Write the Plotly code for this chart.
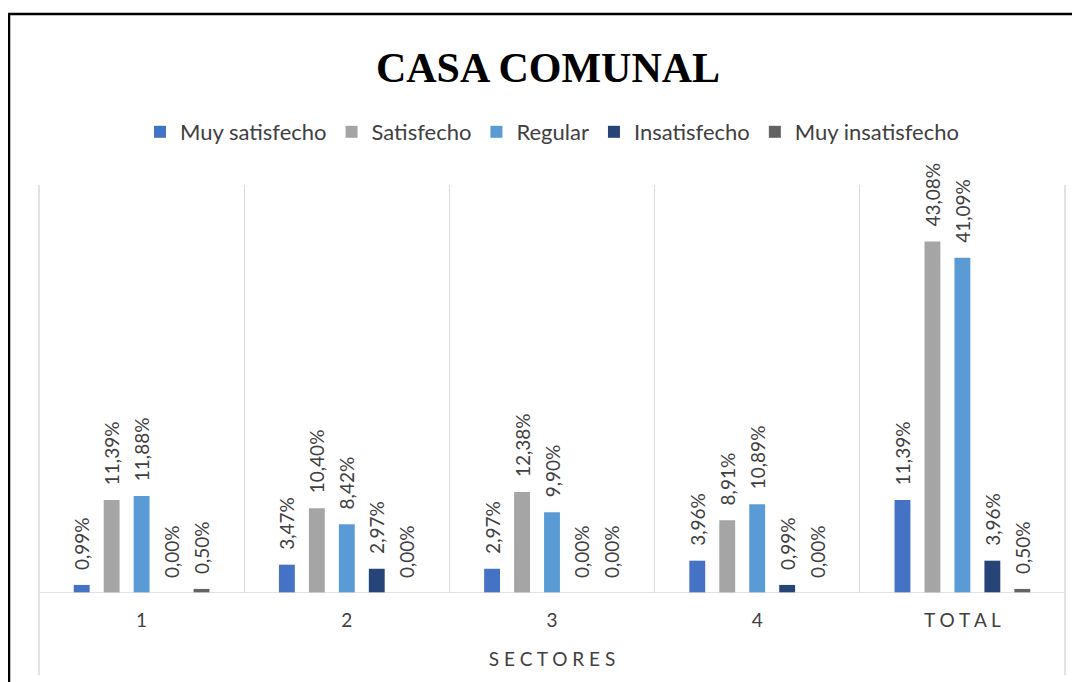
import plotly.graph_objects as go

# data
sectores = ["1", "2", "3", "4", "T O T A L"]
muy_satisfecho = [0.99, 3.47, 2.97, 3.96, 11.39]
satisfecho = [11.39, 10.40, 12.38, 8.91, 43.08]
regular = [11.88, 8.42, 9.90, 10.89, 41.09]
insatisfecho = [0.00, 2.97, 0.00, 0.99, 3.96]
muy_insatisfecho = [0.50, 0.00, 0.00, 0.00, 0.50]

series = [
    ("Muy satisfecho", muy_satisfecho, "#4472C4"),
    ("Satisfecho", satisfecho, "#A5A5A5"),
    ("Regular", regular, "#5B9BD5"),
    ("Insatisfecho", insatisfecho, "#264478"),
    ("Muy insatisfecho", muy_insatisfecho, "#636363"),
]

FONT = "Lato, Calibri, Carlito, sans-serif"
TXT = "#404040"


def pct(v):
    # leading en + thin space lifts the rotated label off the bar like Excel does
    return "\u2002\u2009" + f"{v:.2f}".replace(".", ",") + "%"


fig = go.Figure()
for name, vals, color in series:
    fig.add_trace(go.Bar(
        name=name,
        x=sectores,
        y=vals,
        marker=dict(color=color, line=dict(width=0)),
        text=[pct(v) for v in vals],
        textposition="outside",
        textangle=-90,
        constraintext="none",
        cliponaxis=False,
        textfont=dict(family=FONT, size=19, color=TXT),
    ))

# page body has an 8px margin, so figure pixels = screen pixels - 8
OFF = 8
W, H = 1080, 682
L, R, T, B = 39 - OFF, 23, 185 - OFF, 97
pw, ph = W - L - R, H - T - B


def px_x(x):
    return (x - OFF - L) / pw


def px_y(y):
    return (H - B - (y - OFF)) / ph


fig.update_layout(
    width=W,
    height=H,
    margin=dict(l=L, r=R, t=T, b=B),
    paper_bgcolor="white",
    plot_bgcolor="white",
    barmode="group",
    bargap=0.27,
    bargroupgap=0.47,
    font=dict(family=FONT, color=TXT),
    title=dict(
        text="<b>CASA COMUNAL</b>",
        x=0.5,
        xanchor="center",
        y=1 - (67 - OFF) / H,
        yanchor="middle",
        font=dict(family="Liberation Serif, DejaVu Serif, serif", size=42, color="black"),
    ),
    legend=dict(
        orientation="h",
        x=0.5,
        xanchor="center",
        y=px_y(132),
        yanchor="middle",
        font=dict(family=FONT, size=22, color=TXT),
        traceorder="normal",
    ),
    showlegend=True,
    xaxis=dict(
        type="category",
        tickson="boundaries",
        showgrid=True,
        gridcolor="#D9D9D9",
        gridwidth=1,
        ticks="",
        showline=False,
        ticklabelstandoff=14,
        tickfont=dict(family=FONT, size=19, color=TXT),
        title=dict(text="S E C T O R E S", font=dict(family=FONT, size=19, color=TXT), standoff=22),
    ),
    yaxis=dict(
        range=[0, 50],
        visible=False,
        showgrid=False,
        zeroline=False,
    ),
    shapes=[
        # baseline
        dict(type="line", xref="paper", yref="y", x0=0, x1=1, y0=0, y1=0,
             line=dict(color="#D9D9D9", width=1.5)),
        # side lines running down past the axis
        dict(type="line", xref="paper", yref="paper", x0=0, x1=0, y0=px_y(675), y1=1,
             line=dict(color="#D9D9D9", width=1.5)),
        dict(type="line", xref="paper", yref="paper", x0=1, x1=1, y0=px_y(675), y1=1,
             line=dict(color="#D9D9D9", width=1.5)),
        # black outer frame
        dict(type="rect", xref="paper", yref="paper",
             x0=px_x(9), x1=px_x(1100), y0=px_y(700), y1=px_y(14),
             line=dict(color="black", width=2.5)),
    ],
)

fig.write_html("out.html")
